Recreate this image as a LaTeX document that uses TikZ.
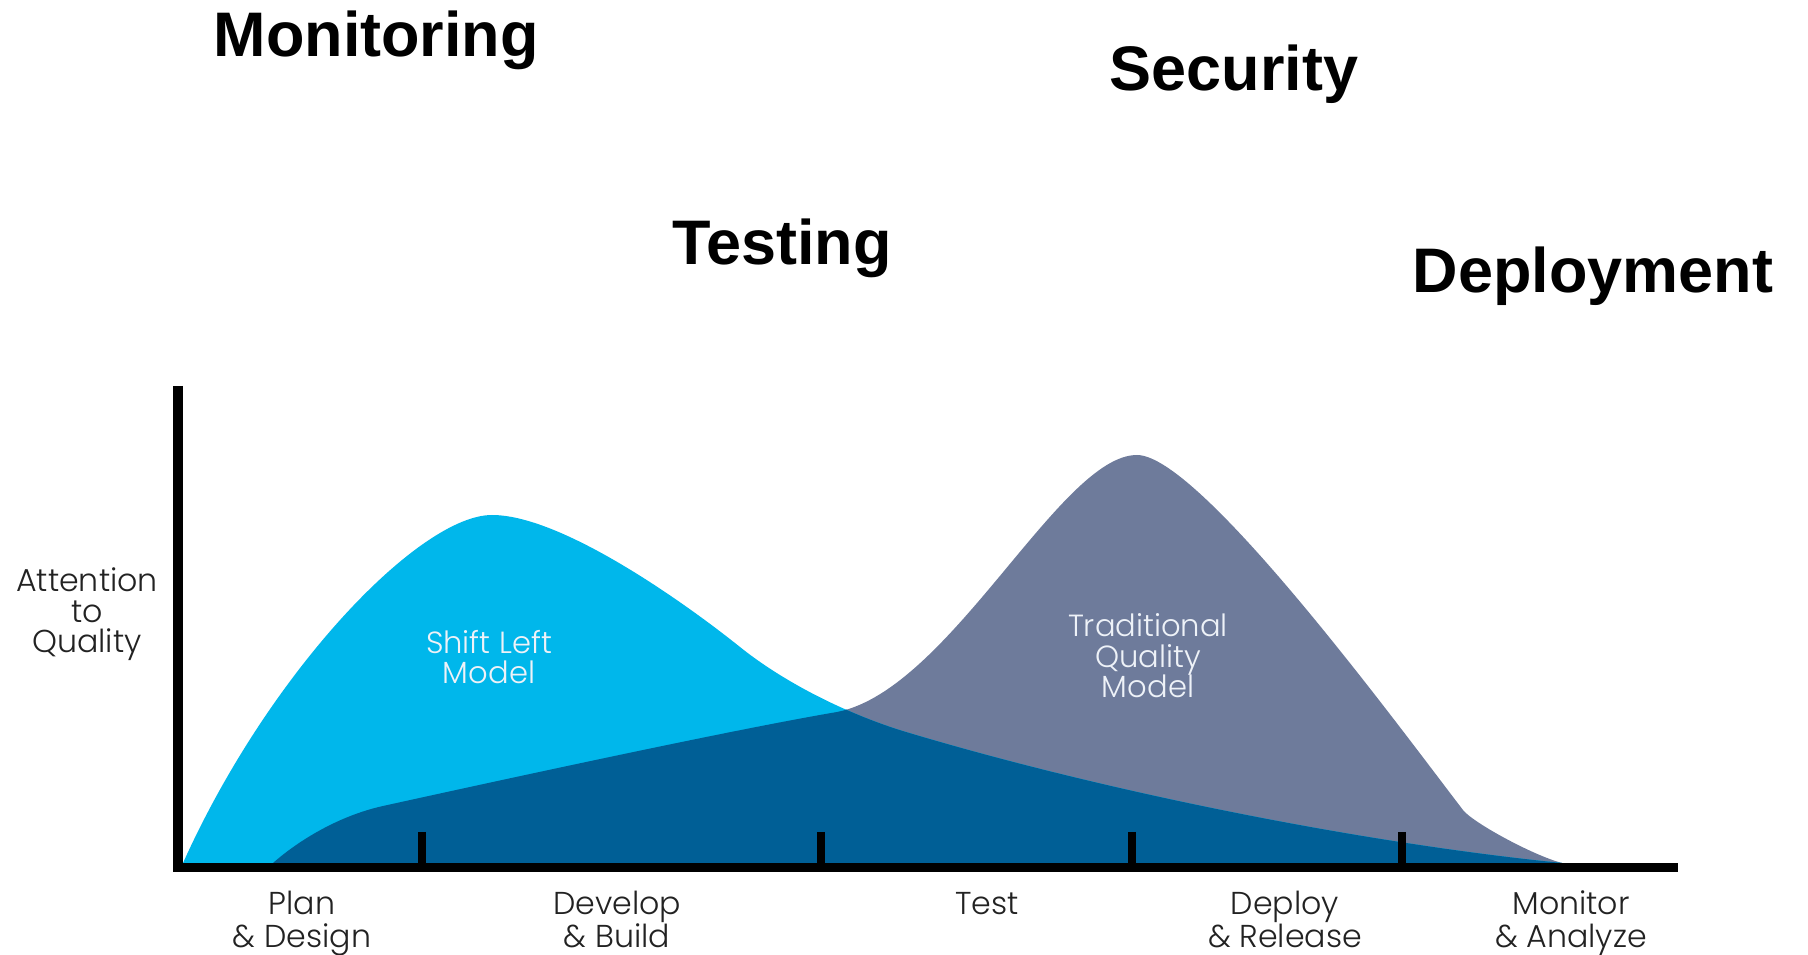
\documentclass[tikz,border=0pt]{standalone}
\usepackage{fontspec}
\setmainfont{Liberation Sans}
\IfFontExistsTF{Poppins Light}{\newfontfamily\gothic{Poppins Light}}{\newfontfamily\gothic{Poppins}}
\definecolor{shiftblue}{HTML}{00B7EB}
\definecolor{tradgrey}{HTML}{6E7B9B}
\definecolor{overlapblue}{HTML}{005F96}
\definecolor{labelgrey}{HTML}{222222}
\definecolor{modelwhite}{HTML}{EEF2F8}

\newcommand{\shiftcurve}{(183,863) .. controls (270,670) and (420,515) .. (492,515)
    .. controls (560,515) and (680,599) .. (740,647)
    .. controls (790,687) and (856,717) .. (906,732)
    .. controls (1106,792) and (1362,843) .. (1562,863) -- cycle}
\newcommand{\tradcurve}{(273,863) .. controls (298,841) and (338,816) .. (383,806)
    .. controls (533,773) and (737,729) .. (837,712)
    .. controls (950,690) and (1060,455) .. (1137,455)
    .. controls (1200,455) and (1400,728) .. (1463,810)
    .. controls (1472,822) and (1532,855) .. (1562,863) -- cycle}

\tikzset{
  heading/.style={font=\fontsize{17.9}{20}\selectfont\bfseries, anchor=base west, inner sep=0pt},
  phase/.style={font=\gothic\fontsize{9}{9.1}\selectfont, align=center, text=labelgrey, anchor=base, inner sep=0pt},
  model/.style={font=\gothic\fontsize{8.7}{8.8}\selectfont, align=center, text=modelwhite, anchor=base, inner sep=0pt},
  axisline/.style={line width=0.09cm, line join=miter},
  tickline/.style={line width=0.08cm},
}

\begin{document}
\begin{tikzpicture}[x=0.01cm, y=-0.01cm]
    \useasboundingbox (0,0) rectangle (1808,955);

    % Headings
    \node[heading] (monitoring) at (213,57) {Monitoring};
    \node[heading] (security) at (1109,91) {Security};
    \node[heading] (testing) at (672,265) {Testing};
    \node[heading] (deployment) at (1412,293) {Deployment};

    % Areas under the curves
    \fill[tradgrey] \tradcurve;
    \fill[shiftblue] \shiftcurve;
    \begin{scope}
        \clip \shiftcurve;
        \fill[overlapblue] \tradcurve;
    \end{scope}

    % Axes and ticks
    \coordinate (top) at (178,386);
    \coordinate (origin) at (178,867.5);
    \coordinate (end) at (1678,867.5);
    \draw[axisline] (top) -- (origin) -- (end);
    \foreach \tx in {422,821,1132,1402}
        \draw[tickline] (\tx,832) -- (\tx,867);

    % Labels (anchored at the last line)
    \node[phase, font=\gothic\fontsize{9}{8.7}\selectfont] (quality) at (87,653) {Attention\\to\\Quality};
    \node[model] (shiftleft) at (489,684) {Shift Left\\Model};
    \node[model] (traditional) at (1148,698) {Traditional\\Quality\\Model};

    \node[phase] (plan) at (302,947) {Plan\\\& Design};
    \node[phase] (develop) at (617,947) {Develop\\\& Build};
    \node[phase] (test) at (987,915) {Test};
    \node[phase] (deploy) at (1285,947) {Deploy\\\& Release};
    \node[phase] (monitor) at (1571,947) {Monitor\\\& Analyze};
\end{tikzpicture}
\end{document}
